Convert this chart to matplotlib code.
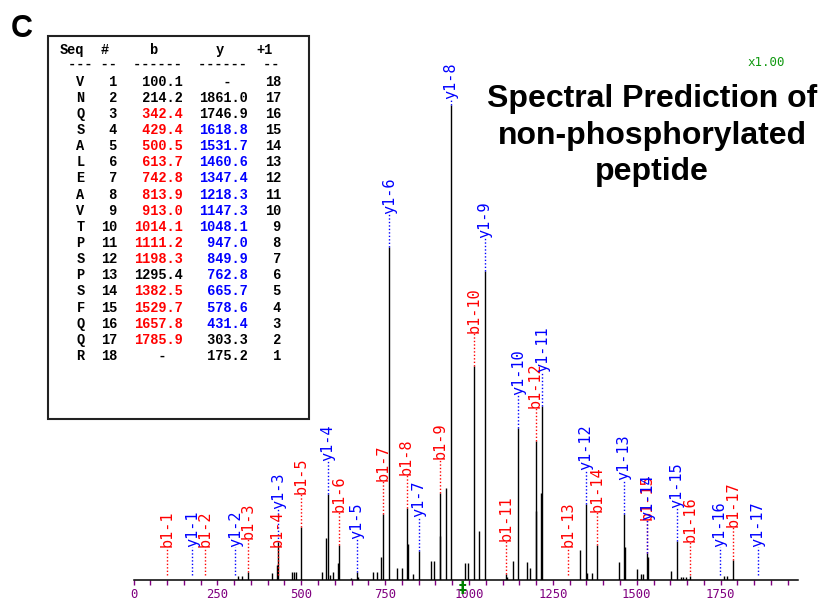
import matplotlib
matplotlib.use("Agg")
import matplotlib.pyplot as plt
from matplotlib.patches import Rectangle

# peptide and its fragment ions (singly charged)
sequence = list("VNQSALEAVTPSPSFQQR")
b_ions = [100.1, 214.2, 342.4, 429.4, 500.5, 613.7, 742.8, 813.9, 913.0,
          1014.1, 1111.2, 1198.3, 1295.4, 1382.5, 1529.7, 1657.8, 1785.9]
y_ions = [175.2, 303.3, 431.4, 578.6, 665.7, 762.8, 849.9, 947.0, 1048.1,
          1147.3, 1218.3, 1347.4, 1460.6, 1531.7, 1618.8, 1746.9, 1861.0]
# ions found in the spectrum (coloured in the table)
b_seen = [False, False, True, True, True, True, True, True, True,
          True, True, True, False, True, True, True, True]
y_seen = [False, False, True, True, True, True, True, True, True,
          True, True, True, True, True, True, False, False]

# predicted spectrum, relative intensity (%)
peak_mz = [312, 324, 342.4, 413, 427, 431.4, 472, 478, 484, 500.5, 561, 575,
           578.6, 586, 596, 609, 613.7, 648, 665.7, 669, 713, 726, 739, 742.8,
           762.8, 785, 799, 813.9, 817.5, 832, 849.9, 886, 897, 913.0, 915,
           930, 947.0, 988, 996, 1014.1, 1030, 1048.1, 1111.2, 1114, 1130,
           1147.3, 1172, 1183, 1198.3, 1201, 1216, 1218.3, 1332, 1347.4, 1352,
           1367, 1382.5, 1446, 1460.6, 1465, 1502, 1514, 1518, 1531, 1535,
           1603, 1618.8, 1633, 1639, 1646, 1657.8, 1759, 1770, 1785.9]
peak_int = [0.9, 0.9, 1.6, 1.5, 3.2, 7.9, 1.7, 1.7, 1.7, 11.2, 1.7, 8.9,
            18.1, 1.1, 1.7, 3.6, 7.4, 0.4, 1.6, 0.6, 1.7, 1.7, 4.8, 13.9,
            70.1, 2.6, 2.6, 15.1, 7.6, 1.2, 6.2, 4.0, 4.0, 18.4, 9.3,
            19.3, 100.0, 3.5, 3.5, 45.1, 10.4, 65.1, 1.3, 0.7, 4.0,
            32.0, 3.7, 2.6, 29.2, 14.5, 18.4, 36.7, 6.3, 16.1, 1.5,
            1.5, 7.4, 3.8, 14.0, 7.0, 2.3, 1.2, 1.2, 5.6, 4.8,
            2.0, 8.2, 0.6, 0.6, 0.6, 0.9, 0.9, 0.9, 4.2]
precursor_mz = 980.5
tick_values = [0, 250, 500, 750, 1000, 1250, 1500, 1750]
tick_labels = ['0', '250', '500', '750', '1000', '1250', '1500', '1750']

W, H = 821, 605
fig = plt.figure(figsize=(W / 100, H / 100), dpi=100)

# spectrum axes, placed in pixels
x0, x1 = 133.5, 798
base, top = 580, 55
px_mz = 0.3355
px_pct = 4.75
ax = fig.add_axes([x0 / W, (H - base) / H, (x1 - x0) / W, (base - top) / H])
ax.set_xlim(0, (x1 - x0) / px_mz)
ymax = (base - top) / px_pct
ax.set_ylim(0, ymax)

ax.vlines(peak_mz, 0, peak_int, color='black', lw=1.0)

for kind, ions, col in (('b', b_ions, 'red'), ('y', y_ions, 'blue')):
    for i, mz in enumerate(ions, 1):
        near = [h for m, h in zip(peak_mz, peak_int) if abs(m - mz) <= 1.5]
        h = max(near) if near else 0
        name = f'{kind}1-{i}'
        lab = min(h + 7, ymax - 1.2 - 2.0 * len(name))
        ax.plot([mz, mz], [max(h, 1), lab], color=col, lw=1,
                ls=(0, (1, 1.5)))
        ax.text(mz, lab, name, rotation=90, ha='center', va='bottom',
                color=col, family='DejaVu Sans Mono', fontsize=11)

ax.text(precursor_mz, -1.8, '\u2021', color='#008000', ha='center',
        va='center', fontsize=11, fontweight='bold', clip_on=False)

for s in ('top', 'left', 'right'):
    ax.spines[s].set_visible(False)
ax.spines['bottom'].set_linewidth(1.1)
ax.set_yticks([])
ax.set_xticks(tick_values)
ax.set_xticklabels(tick_labels, fontfamily='DejaVu Sans Mono')
ax.set_xticks(range(0, 2000, 50), minor=True)
ax.tick_params(axis='x', which='both', direction='out', length=3.6, width=1,
               color='#800080', labelcolor='#800080', labelsize=8.8, pad=2.5)
ax.patch.set_alpha(0)

# overlay in pixel coordinates for the text parts
ov = fig.add_axes([0, 0, 1, 1], zorder=5)
ov.set_xlim(0, W)
ov.set_ylim(H, 0)
ov.axis('off')

ov.text(11, 37, 'C', fontsize=22, fontweight='bold', family='Liberation Sans',
        va='baseline', ha='left')

title_lines = ['Spectral Prediction of', 'non-phosphorylated', 'peptide']
for k, line in enumerate(title_lines):
    ov.text(652, 107 + 36.6 * k, line, ha='center', va='baseline',
            fontsize=23, fontweight='bold', family='Liberation Sans')

ov.text(766, 62, 'x1.00', ha='center', va='center', color='#119911',
        family='DejaVu Sans Mono', fontsize=9)

# fragment table
ov.add_patch(Rectangle((48.3, 36), 261, 383.3, facecolor='white',
                       edgecolor='#222222', lw=1.5))
cw, tx = 8.2, 60
tab = dict(family='Liberation Mono', fontweight='bold', fontsize=9.84,
           va='baseline', ha='left')
for txt, c in (('Seq', 0), ('#', 5), ('b', 11), ('y', 19), ('+1', 24)):
    ov.text(tx + c * cw, 54, txt, **tab)
ov.text(tx, 68.5, ' --- --  ------  ------  --', **tab)

n = len(sequence)
for r in range(n):
    yb = 85.7 + r * 16.13
    ov.text(tx + 2 * cw, yb, sequence[r], **tab)
    ov.text(tx + 5 * cw, yb, f'{r + 1:2d}', **tab)
    if r < n - 1:
        bt, bc = f'{b_ions[r]:6.1f}', ('red' if b_seen[r] else 'black')
    else:
        bt, bc = '   -  ', 'black'
    if r > 0:
        yi = n - 1 - r
        yt, yc = f'{y_ions[yi]:6.1f}', ('blue' if y_seen[yi] else 'black')
    else:
        yt, yc = '   -  ', 'black'
    ov.text(tx + 9 * cw, yb, bt, color=bc, **tab)
    ov.text(tx + 17 * cw, yb, yt, color=yc, **tab)
    ov.text(tx + 25 * cw, yb, f'{n - r:2d}', **tab)

fig.savefig('out.png', dpi=100, facecolor='white')
